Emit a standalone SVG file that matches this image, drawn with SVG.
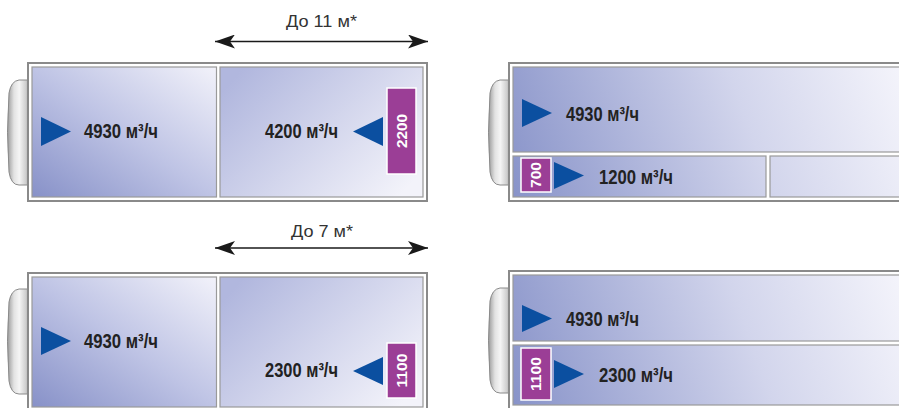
<svg xmlns="http://www.w3.org/2000/svg" width="899" height="408" viewBox="0 0 899 408">
<defs>
<linearGradient id="gL" x1="0" y1="1" x2="1" y2="0"><stop offset="0" stop-color="#8791c8"/><stop offset="0.5" stop-color="#bfc4e5"/><stop offset="1" stop-color="#f2f2fa"/></linearGradient>
<linearGradient id="gR" x1="0" y1="0.2" x2="1" y2="0.8"><stop offset="0" stop-color="#b1b7de"/><stop offset="1" stop-color="#f3f3fa"/></linearGradient>
<linearGradient id="gW" gradientUnits="userSpaceOnUse" x1="513" y1="200" x2="899" y2="60"><stop offset="0" stop-color="#8893c9"/><stop offset="0.6" stop-color="#d2d5ec"/><stop offset="1" stop-color="#f4f4fb"/></linearGradient>
<linearGradient id="gW2" gradientUnits="userSpaceOnUse" x1="513" y1="405" x2="899" y2="270"><stop offset="0" stop-color="#8893c9"/><stop offset="0.6" stop-color="#d2d5ec"/><stop offset="1" stop-color="#f4f4fb"/></linearGradient>
<linearGradient id="gCap" x1="0" y1="0" x2="1" y2="0"><stop offset="0" stop-color="#9a9a9a"/><stop offset="0.3" stop-color="#e2e2e2"/><stop offset="0.55" stop-color="#f5f5f5"/><stop offset="0.85" stop-color="#cfcfcf"/><stop offset="1" stop-color="#a5a5a5"/></linearGradient>
<marker id="ah" viewBox="0 0 20 14" refX="20" refY="7" markerWidth="20" markerHeight="14" markerUnits="userSpaceOnUse" orient="auto-start-reverse"><path d="M20,7 L0,0 L5,7 L0,14 Z" fill="#1a1a1a"/></marker>
</defs>
<style>
.frame{fill:#fff;stroke:#8a8a8a;stroke-width:2}
.pnl{stroke:#9a9a9a;stroke-width:1.2}
.cap{fill:url(#gCap);stroke:#8a8a8a;stroke-width:1}
.tri{fill:#0b4fa0}
.tag{fill:#9b3e96;stroke:#fff;stroke-width:1.5}
.lbl{font-family:"Liberation Sans",Arial,sans-serif;font-weight:bold;font-size:20px;fill:#222}
.tagt{font-family:"Liberation Sans",Arial,sans-serif;font-weight:bold;font-size:15px;fill:#fff;text-anchor:middle}
.dim{font-family:"Liberation Sans",Arial,sans-serif;font-size:17px;fill:#333;text-anchor:middle}
.dl{stroke:#1a1a1a;stroke-width:1.6;fill:none}
</style>

<g id="bus-top-left">
<path class="cap" d="M29,80 L19,80 Q11,81 9,93 Q6,132 9,172 Q11,185 19,185 L29,185 Z"/>
<rect class="frame" x="28" y="63" width="399" height="138"/>
<rect class="pnl" x="32" y="67" width="184.5" height="130" fill="url(#gL)"/>
<rect class="pnl" x="220" y="67" width="203" height="130" fill="url(#gR)"/>
<polygon class="tri" points="41,117 71,131.5 41,146"/>
<text class="lbl" x="84" y="138" textLength="74" lengthAdjust="spacingAndGlyphs">4930 м³/ч</text>
<text class="lbl" x="265" y="138" textLength="73" lengthAdjust="spacingAndGlyphs">4200 м³/ч</text>
<polygon class="tri" points="383,117 353,131.5 383,146"/>
<rect class="tag" x="387" y="88" width="29" height="86"/>
<text class="tagt" transform="translate(407,131) rotate(-90)" textLength="34" lengthAdjust="spacingAndGlyphs" x="0" y="0">2200</text>
</g>

<g id="bus-top-right">
<path class="cap" d="M510,80 L500,80 Q492,81 490,93 Q487,132 490,172 Q492,185 500,185 L510,185 Z"/>
<rect class="frame" x="509" y="63" width="500" height="138"/>
<rect class="pnl" x="513" y="67" width="500" height="85" fill="url(#gW)"/>
<rect class="pnl" x="513" y="156" width="253" height="41" fill="url(#gW)"/>
<rect class="pnl" x="770" y="156" width="243" height="41" fill="url(#gW)"/>
<polygon class="tri" points="522,99 552,113 522,127"/>
<text class="lbl" x="566" y="121" textLength="73" lengthAdjust="spacingAndGlyphs">4930 м³/ч</text>
<rect class="tag" x="521" y="158" width="30" height="34"/>
<text class="tagt" transform="translate(541,175) rotate(-90)" textLength="26" lengthAdjust="spacingAndGlyphs" x="0" y="0">700</text>
<polygon class="tri" points="554,162 584,175.5 554,189"/>
<text class="lbl" x="599" y="184" textLength="74" lengthAdjust="spacingAndGlyphs">1200 м³/ч</text>
</g>

<g id="bus-bottom-left">
<path class="cap" d="M29,289 L19,289 Q11,290 9,302 Q6,341 9,381 Q11,394 19,394 L29,394 Z"/>
<rect class="frame" x="28" y="273" width="399" height="138"/>
<rect class="pnl" x="32" y="277" width="184.5" height="130" fill="url(#gL)"/>
<rect class="pnl" x="220" y="277" width="203" height="130" fill="url(#gR)"/>
<polygon class="tri" points="41,327 71,341 41,355"/>
<text class="lbl" x="84" y="348" textLength="74" lengthAdjust="spacingAndGlyphs">4930 м³/ч</text>
<text class="lbl" x="265" y="377" textLength="73" lengthAdjust="spacingAndGlyphs">2300 м³/ч</text>
<polygon class="tri" points="383,357 353,371 383,385"/>
<rect class="tag" x="387" y="343" width="29" height="55"/>
<text class="tagt" transform="translate(407,370.5) rotate(-90)" textLength="34" lengthAdjust="spacingAndGlyphs" x="0" y="0">1100</text>
</g>

<g id="bus-bottom-right">
<path class="cap" d="M510,288 L500,288 Q492,289 490,301 Q487,340 490,380 Q492,393 500,393 L510,393 Z"/>
<rect class="frame" x="509" y="271" width="500" height="140"/>
<rect class="pnl" x="513" y="275" width="500" height="66" fill="url(#gW2)"/>
<rect class="pnl" x="513" y="345" width="500" height="60" fill="url(#gW2)"/>
<polygon class="tri" points="522,305 552,318.5 522,332"/>
<text class="lbl" x="566" y="326" textLength="73" lengthAdjust="spacingAndGlyphs">4930 м³/ч</text>
<rect class="tag" x="521" y="348" width="30" height="52"/>
<text class="tagt" transform="translate(541,374) rotate(-90)" textLength="34" lengthAdjust="spacingAndGlyphs" x="0" y="0">1100</text>
<polygon class="tri" points="554,360 584,374 554,388"/>
<text class="lbl" x="599" y="382" textLength="74" lengthAdjust="spacingAndGlyphs">2300 м³/ч</text>
</g>

<g id="connectors">
<line class="dl" x1="215" y1="41.5" x2="428" y2="41.5" marker-start="url(#ah)" marker-end="url(#ah)"/>
<text class="dim" x="321.5" y="27" textLength="71" lengthAdjust="spacingAndGlyphs">До 11 м*</text>
<line class="dl" x1="215" y1="248" x2="428" y2="248" marker-start="url(#ah)" marker-end="url(#ah)"/>
<text class="dim" x="322" y="237" textLength="62" lengthAdjust="spacingAndGlyphs">До 7 м*</text>
</g>
</svg>
